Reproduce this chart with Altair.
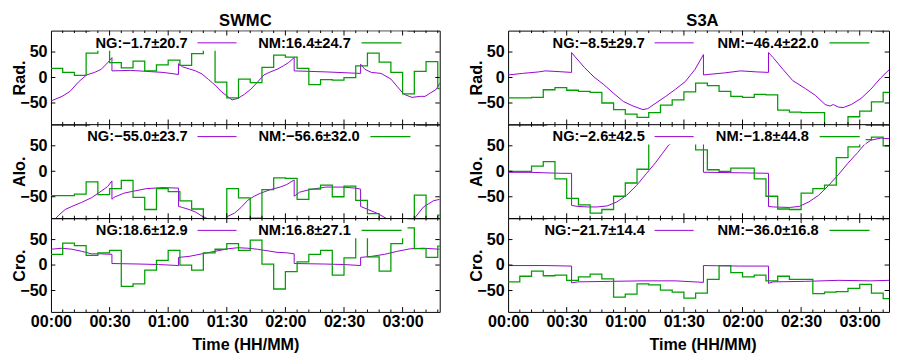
import altair as alt
import pandas as pd

FONT = "Liberation Sans"
PURPLE = "#9400d3"
GREEN = "#00a000"

PANEL_TITLES = ["SWMC", "S3A"]
ROW_TITLES = ["Rad.", "Alo.", "Cro."]
X_TITLE = "Time (HH/MM)"
X_LABELS = ["00:00", "00:30", "01:00", "01:30", "02:00", "02:30", "03:00"]
X_LABEL_VALUES = [0, 30, 60, 90, 120, 150, 180]
Y_TICKS = [-50, 0, 50]
STEP_MIN = 6

# ---------------- SWMC ----------------
SWMC_RAD_NG_T = [0, 5.7, 9.8, 14, 18.2, 22.3, 25.7, 29, 31.2, 31.2, 40.7, 49, 57.3, 65.3, 65.3,
                 67.3, 70.7, 74, 77.3, 80.7, 84, 87.3, 90.7, 92.7, 95.7, 99, 102.3, 105.7, 109,
                 112.3, 115.7, 119, 121.5, 124.5, 124.5, 140.7, 158.5, 158.5, 160.7, 164, 169,
                 174, 177.3, 180.7, 184.8, 189, 191.5, 194, 197.3, 199]
SWMC_RAD_NG_V = [-46, -37, -27, -9, 5, 10, 16, 29, 39, 13, 14, 12, 10, 6, 27,
                 21, 17, 13, 7, -4, -15, -28, -38, -44, -41, -33, -23, -9, 5,
                 11, 16, 23, 29, 39, 13, 11, 8, 26, 16, 10, 8,
                 -3, -18, -33, -39, -37, -37, -31, -23, -11]
SWMC_RAD_NM = [18, 10, 4, 48, 70, 29, 19, 32, 13, 25, 34, 24, 47, 65, -9, -40, -3,
               -10, 20, 44, 40, 18, -14, -4, -5, 0, 23, 48, 30, 10, -32, 12, 31, -22]

SWMC_ALO_NG_T = [0, 2.3, 4, 7.3, 10.7, 15.7, 20.7, 25.7, 29, 31.2, 31.2, 32.3, 37.3, 42.3, 49,
                 57.3, 65.3, 65.3, 67.3, 70.7, 74, 77.3, 80.7, 85, 89, 90.7, 94, 97.3, 100.7,
                 104, 107.3, 112.3, 117.3, 120.7, 124.5, 124.5, 127.3, 132.3, 140.7, 149, 155.7,
                 158.5, 158.5, 162.3, 167.3, 172.3, 179, 185.7, 190.7, 195.7, 199]
SWMC_ALO_NG_V = [-100, -93, -86, -75, -69, -61, -52, -39, -30, -19, -55, -51, -43, -39, -34,
                 -32, -33, -69, -71, -75, -80, -88, -94, -100, -94, -88, -82, -71, -57,
                 -49, -43, -36, -31, -26, -17, -49, -41, -36, -31, -31, -33,
                 -35, -69, -75, -83, -94, -100, -94, -70, -58, -55]
SWMC_ALO_NM = [-48, -48, -45, -21, -46, -34, -18, -51, -75, -34, -40, -58, -74, -100, -100,
               -34, -52, -92, -36, -13, -14, -55, -35, -27, -50, -29, -57, -83, -100, -100,
               -100, -47, -100, -86]

SWMC_CRO_NG_T = [0, 5.7, 10.7, 15.7, 20.7, 25.7, 31.2, 31.2, 45, 55, 65.3, 65.3, 70.7, 77.3,
                 84, 90.7, 95.7, 100.7, 105.7, 110.7, 115.7, 120.7, 124.5, 124.5, 140, 150,
                 158.5, 158.5, 164, 170.7, 177.3, 184, 190.7, 199]
SWMC_CRO_NG_V = [31, 33, 31, 27, 22, 22, 21, 3, 2, 1, -1, 15, 17, 22,
                 27, 32, 34, 33, 31, 28, 25, 24, 22, 3, 2, 1,
                 -1, 15, 17, 21, 27, 32, 33, 31]
SWMC_CRO_NM = [21, 43, 38, 19, 24, 29, -42, -37, -10, 9, 29, 0, -10, 24, 31, 42, 29, 49,
               2, -47, -13, 6, 21, 29, -20, 14, 65, 16, -12, 42, 73, 32, 15, 37]

# ---------------- S3A ----------------
S3A_RAD_NG_T = [0, 7.3, 15.7, 19, 24, 32.5, 32.5, 34, 39, 44, 49, 54, 59, 64, 69, 71.5, 75.7,
                80.7, 85.7, 90.7, 95.7, 100, 100, 102.3, 110.7, 119, 127.3, 133.3, 133.3,
                135.7, 140.7, 145.7, 152.3, 157.3, 162.3, 164.8, 166.5, 169, 171.5, 175.7,
                180.7, 185.7, 190.7, 195]
S3A_RAD_NG_V = [5, 8, 11, 13, 12, 10, 49, 42, 20, 1, -14, -31, -47, -56, -63, -61, -50,
                -37, -23, -8, 16, 45, 5, 6, 9, 13, 11, 10, 49,
                39, 16, -6, -22, -35, -53, -56, -53, -58, -59, -53,
                -41, -23, -1, 15]
S3A_RAD_NM = [-40, -40, -39, -24, -20, -25, -27, -29, -50, -63, -72, -78, -69, -54, -44,
              -28, -11, -16, -27, -37, -39, -33, -34, -64, -68, -69, -69, -95, -95, -77,
              -66, -48, -29]

S3A_ALO_NG_T = [0, 10.7, 19, 27.3, 32.5, 32.5, 35.7, 40.7, 45.7, 50.7, 55.7, 60.7, 65.7, 70.7,
                75.7, 79, 82.3, 85.7, 90.7, 95.7, 100, 100, 102.3, 119, 133.3, 133.3, 135.7,
                144, 149, 154, 159, 164, 169, 174, 179, 182.3, 185.7, 190.7, 195]
S3A_ALO_NG_V = [-2, -2, -3, -4, -4, -67, -69, -70, -70, -68, -60, -47, -28, -5,
                18, 35, 52, 59, 63, 65, 65, -2, -2, -3, -4, -69, -70,
                -71, -69, -60, -47, -28, -7, 16, 37, 52, 61, 65, 64]
S3A_ALO_NM = [0, 0, 10, 19, -15, -53, -66, -82, -75, -49, -23, 4, 58, 66, 68, 60, 42, 3,
              0, 6, 6, -15, -49, -74, -75, -43, -34, -27, 27, 48, 62, 67, 50]

S3A_CRO_NG_T = [0, 19, 32.5, 32.5, 35.7, 52.3, 69, 85.7, 100, 100, 119, 133.3, 133.3, 135.7,
                152.3, 169, 185.7, 195]
S3A_CRO_NG_V = [-1, -1, -2, -35, -33, -32, -31, -31, -34, -1, -2, -2, -36, -33,
                -32, -30, -31, -30]
S3A_CRO_NM = [-33, -22, -12, -21, -20, -30, -23, -18, -27, -63, -57, -37, -39, -49, -53,
              -65, -55, -28, -1, -15, -23, -20, -31, -22, -28, -28, -56, -53, -52, -46,
              -38, -55, -66]

LEGENDS = {
    "SWMC": [("NG:\u22121.7\u00b120.7", "NM:16.4\u00b124.7"),
             ("NG:\u221255.0\u00b123.7", "NM:\u221256.6\u00b132.0"),
             ("NG:18.6\u00b112.9", "NM:16.8\u00b127.1")],
    "S3A": [("NG:\u22128.5\u00b129.7", "NM:\u221246.4\u00b122.0"),
            ("NG:\u22122.6\u00b142.5", "NM:\u22121.8\u00b144.8"),
            ("NG:\u221221.7\u00b114.4", "NM:\u221236.0\u00b116.8")],
}
# right end (px inside panel) of the second legend entry's text
LEG2_END = {"SWMC": [307, 316, 307], "S3A": [318, 308, 318]}

H = 96
FULL_W = 398          # full panel width of the original figure (right one is cut by the page edge)
YDOM = [-92, 92]
label_expr = "[" + ",".join("'%s'" % s for s in X_LABELS) + "][round(datum.value/30)]"


def panel(ng_t, ng_v, nm_v, leg, leg2_end, ylabel, xmax, width, bottom, title=None):
    xs = alt.Scale(domain=[0, xmax], nice=False, zero=False)
    ys = alt.Scale(domain=YDOM, nice=False, zero=False)
    if bottom:
        xaxis = alt.Axis(values=X_LABEL_VALUES, labelExpr=label_expr, ticks=False, domain=False,
                         grid=False, title=X_TITLE, labelPadding=2, titlePadding=7,
                         titleX=FULL_W / 2, titleAnchor="middle",
                         labelFlush=False, labelOverlap=False)
    else:
        xaxis = None
    yaxis = alt.Axis(values=Y_TICKS, ticks=False, domain=False, grid=False, title=ylabel,
                     labelPadding=4, titleX=-27.5, titleY=H / 2, titleBaseline="alphabetic",
                     labelFlush=False, labelOverlap=False)
    X = lambda: alt.X("t:Q", scale=xs, axis=xaxis)
    Y = lambda: alt.Y("v:Q", scale=ys, axis=yaxis)

    ng_df = pd.DataFrame({"t": ng_t, "v": ng_v, "i": list(range(len(ng_t)))})
    nm_df = pd.DataFrame({"t": [STEP_MIN * k for k in range(len(nm_v) + 1)],
                          "v": nm_v + [nm_v[-1]]})
    one = pd.DataFrame({"k": [0]})

    ng = alt.Chart(ng_df).mark_line(color=PURPLE, strokeWidth=1, clip=True).encode(
        x=X(), y=Y(), order=alt.Order("i:Q"))
    nm = alt.Chart(nm_df).mark_line(color=GREEN, strokeWidth=1.3, interpolate="step-after",
                                    clip=True).encode(x=X(), y=Y())

    box = alt.Chart(one).mark_rect(color="white").encode(
        x=alt.value(40), x2=alt.value(leg2_end + 58), y=alt.value(1), y2=alt.value(20.5))
    tstyle = dict(align="right", baseline="middle", font=FONT, fontSize=15,
                  fontWeight="bold", color="black")
    t1 = alt.Chart(one).mark_text(**tstyle).encode(
        x=alt.value(140), y=alt.value(12.5), text=alt.value(leg[0]))
    t2 = alt.Chart(one).mark_text(**tstyle).encode(
        x=alt.value(leg2_end), y=alt.value(12.5), text=alt.value(leg[1]))
    s1 = alt.Chart(one).mark_rule(color=PURPLE, strokeWidth=1).encode(
        x=alt.value(150), x2=alt.value(190), y=alt.value(12.5))
    s2 = alt.Chart(one).mark_rule(color=GREEN, strokeWidth=1.3).encode(
        x=alt.value(leg2_end + 11), x2=alt.value(leg2_end + 52), y=alt.value(12.5))

    major = pd.DataFrame({"t": [v for v in X_LABEL_VALUES if 0 < v < xmax]})
    minor = pd.DataFrame({"t": [v for v in range(STEP_MIN, int(xmax) + 1, STEP_MIN) if v % 30]})
    yt = pd.DataFrame({"v": Y_TICKS})
    tick = dict(color="black", strokeWidth=1)
    ticks = [
        alt.Chart(major).mark_rule(**tick).encode(x=X(), y=alt.value(H), y2=alt.value(H - 5)),
        alt.Chart(major).mark_rule(**tick).encode(x=X(), y=alt.value(0), y2=alt.value(5)),
        alt.Chart(minor).mark_rule(**tick).encode(x=X(), y=alt.value(H), y2=alt.value(H - 2.5)),
        alt.Chart(minor).mark_rule(**tick).encode(x=X(), y=alt.value(0), y2=alt.value(2.5)),
        alt.Chart(yt).mark_rule(**tick).encode(y=Y(), x=alt.value(0), x2=alt.value(4.5)),
        alt.Chart(yt).mark_rule(**tick).encode(y=Y(), x=alt.value(width - 4.5), x2=alt.value(width)),
    ]
    props = dict(width=width, height=H)
    if title:
        props["title"] = alt.Title(title, font=FONT, fontSize=17, fontWeight="bold",
                                   anchor="middle", offset=0, color="black",
                                   dx=(FULL_W - width) / 2)
    return alt.layer(ng, nm, box, t1, t2, s1, s2, *ticks).properties(**props)


LEFT = [(SWMC_RAD_NG_T, SWMC_RAD_NG_V, SWMC_RAD_NM),
        (SWMC_ALO_NG_T, SWMC_ALO_NG_V, SWMC_ALO_NM),
        (SWMC_CRO_NG_T, SWMC_CRO_NG_V, SWMC_CRO_NM)]
RIGHT = [(S3A_RAD_NG_T, S3A_RAD_NG_V, S3A_RAD_NM),
         (S3A_ALO_NG_T, S3A_ALO_NG_V, S3A_ALO_NM),
         (S3A_CRO_NG_T, S3A_CRO_NG_V, S3A_CRO_NM)]

cells = []
for r in range(3):
    for name, data, width in (("SWMC", LEFT, 398), ("S3A", RIGHT, 390)):
        ng_t, ng_v, nm_v = data[r]
        cells.append(panel(ng_t, ng_v, nm_v, LEGENDS[name][r], LEG2_END[name][r],
                           ROW_TITLES[r], width / 2, width, r == 2,
                           title=name if r == 0 else None))

chart = alt.concat(*cells, columns=2, spacing={"row": 0, "column": 70}, bounds="flush").properties(
    padding={"left": 3, "top": 0, "right": 0, "bottom": 0}
).configure_view(stroke="black", strokeWidth=1).configure_axis(
    labelFont=FONT, labelFontSize=16.5, labelFontWeight="bold", labelColor="black",
    titleFont=FONT, titleFontSize=16.5, titleFontWeight="bold", titleColor="black")

chart.save("out.html", embed_options={"renderer": "svg", "actions": False})
